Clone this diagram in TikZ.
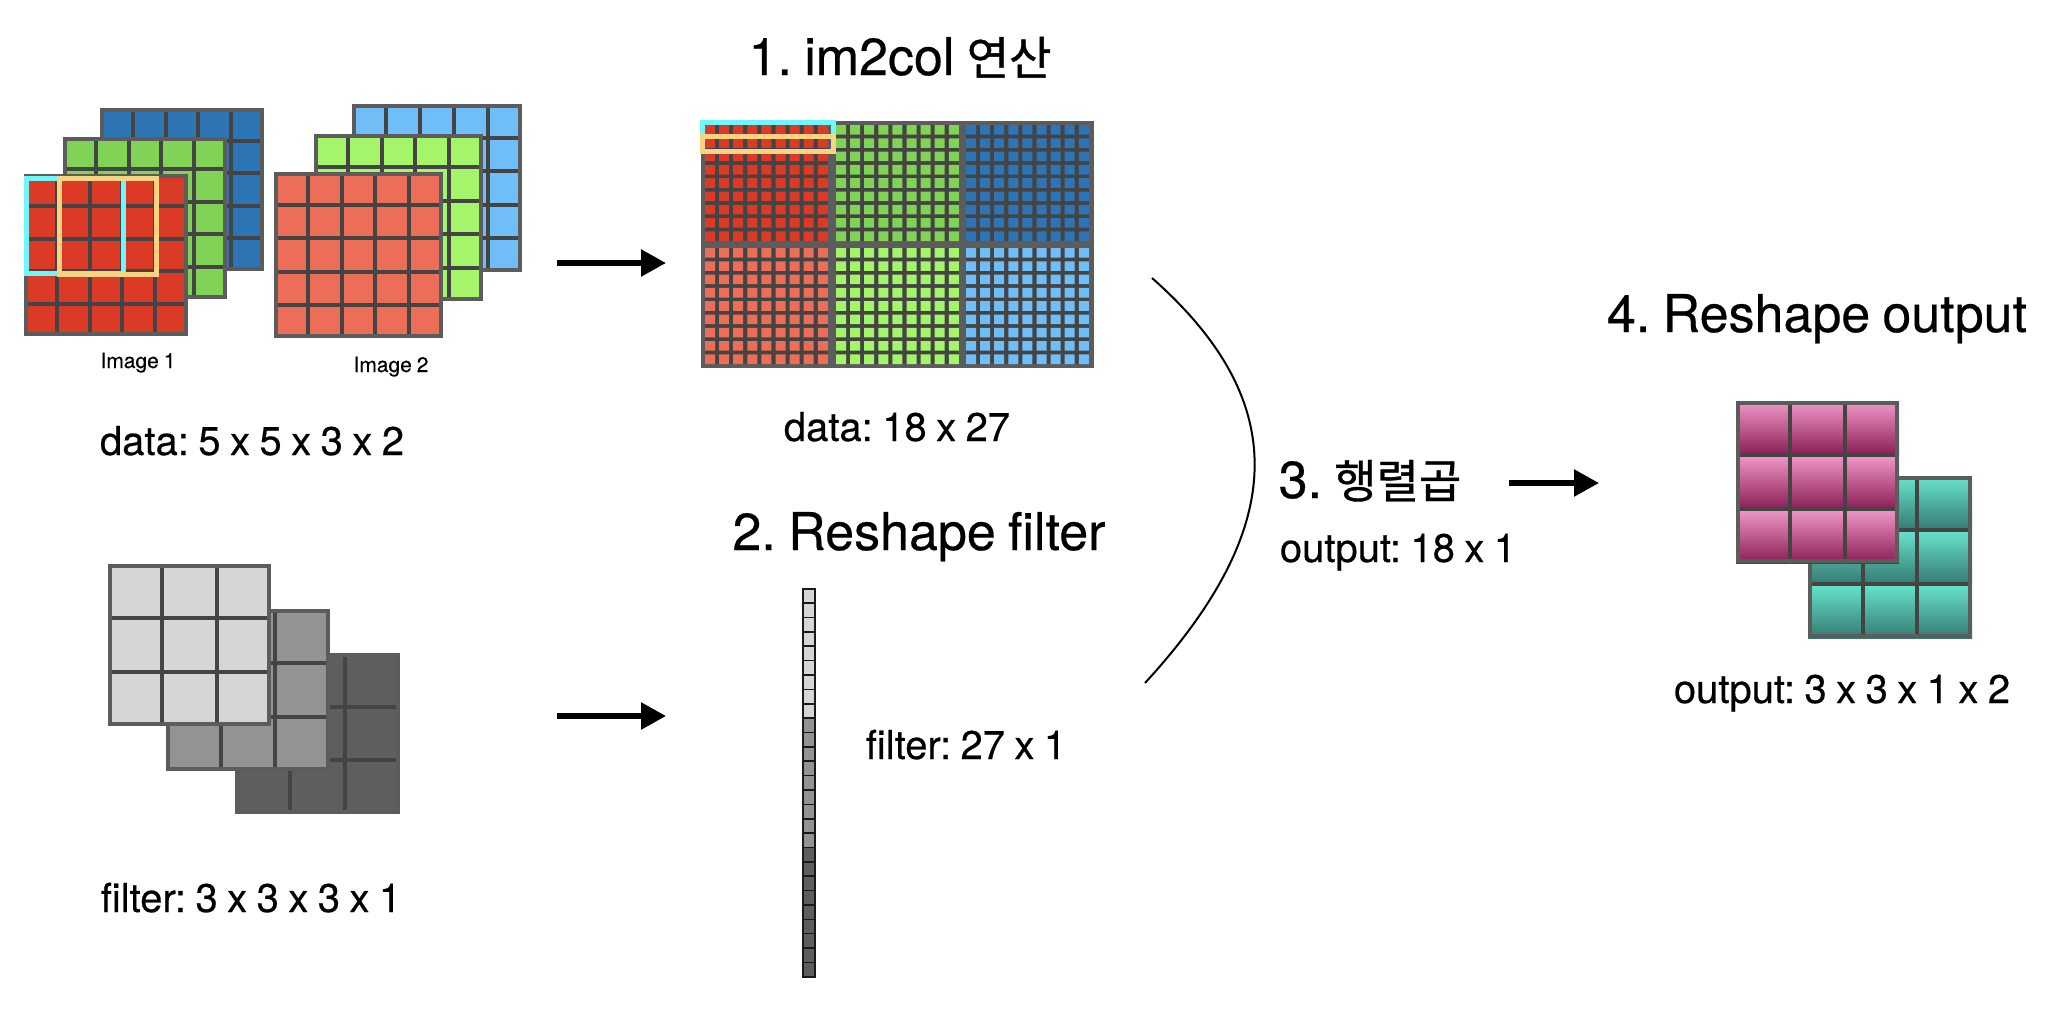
\documentclass[tikz,border=0pt]{standalone}
\usepackage{fontspec}
\setmainfont{TeX Gyre Heros}[WordSpace=0.85, FakeBold=0.4]
\newfontfamily\kr{Noto Sans CJK KR}[FakeBold=0.9]
\usetikzlibrary{arrows.meta}
\frenchspacing
\definecolor{cRed}{HTML}{DB3A26}
\definecolor{cGreen}{HTML}{80D354}
\definecolor{cBlue}{HTML}{2E75B6}
\definecolor{cSalmon}{HTML}{EC6E58}
\definecolor{cLGreen}{HTML}{A5F56A}
\definecolor{cLBlue}{HTML}{6FBEF8}
\definecolor{gLight}{HTML}{D6D6D6}
\definecolor{gMid}{HTML}{939393}
\definecolor{gDark}{HTML}{5E5E5E}
\definecolor{pinkT}{HTML}{F198C8}
\definecolor{pinkB}{HTML}{8A1E55}
\definecolor{tealT}{HTML}{68E4CC}
\definecolor{tealB}{HTML}{357A72}
\definecolor{gLine}{HTML}{444444}
\definecolor{gBorder}{HTML}{5C5C5C}
\definecolor{hCyan}{HTML}{70F7FB}
\definecolor{hYellow}{HTML}{F8D381}
\tikzset{
  gridin/.style={draw=gLine, line width=4pt},
  gridout/.style={draw=gBorder, line width=4pt},
  lbl/.style={inner sep=0pt, anchor=base, font=\fontsize{40}{46}\selectfont\frenchspacing},
  ttl/.style={inner sep=0pt, anchor=base, font=\fontsize{52}{58}\selectfont\frenchspacing},
  smalllbl/.style={inner sep=0pt, anchor=base, font=\fontsize{21}{24}\selectfont\frenchspacing},
  arr/.style={line width=5.5pt, -{Triangle[length=25pt,width=26pt]}},
  hl/.style={line width=5pt},
}
\newcommand{\krs}[1]{{\fontsize{46}{52}\selectfont\kr #1}}
% x0 y0 x1 y1 (n-1) colour
\newcommand{\cellgrid}[6]{%
  \fill[#6] (#1,#2) rectangle (#3,#4);
  \foreach \k in {1,...,#5}{%
    \pgfmathsetmacro{\gxx}{#1+(#3-#1)*\k/(#5+1)}%
    \pgfmathsetmacro{\gyy}{#2+(#4-#2)*\k/(#5+1)}%
    \draw[gridin] (\gxx,#2) -- (\gxx,#4);
    \draw[gridin] (#1,\gyy) -- (#3,\gyy);
  }%
  \pgfmathsetmacro{\gax}{#1+2}\pgfmathsetmacro{\gay}{#2+2}%
  \pgfmathsetmacro{\gbx}{#3-2}\pgfmathsetmacro{\gby}{#4-2}%
  \draw[gridout] (\gax,\gay) rectangle (\gbx,\gby);
}
% x0 y0 x1 y1 top bottom (3x3)
\newcommand{\gradgrid}[6]{%
  \foreach \i in {0,1,2}{\foreach \j in {0,1,2}{%
    \pgfmathsetmacro{\gca}{#1+(#3-#1)*\i/3}%
    \pgfmathsetmacro{\gcb}{#2+(#4-#2)*\j/3}%
    \pgfmathsetmacro{\gcc}{#1+(#3-#1)*(\i+1)/3}%
    \pgfmathsetmacro{\gcd}{#2+(#4-#2)*(\j+1)/3}%
    \shade[top color=#5, bottom color=#6] (\gca,\gcb) rectangle (\gcc,\gcd);
  }}%
  \foreach \k in {1,2}{%
    \pgfmathsetmacro{\gxx}{#1+(#3-#1)*\k/3}%
    \pgfmathsetmacro{\gyy}{#2+(#4-#2)*\k/3}%
    \draw[gridin] (\gxx,#2) -- (\gxx,#4);
    \draw[gridin] (#1,\gyy) -- (#3,\gyy);
  }%
  \pgfmathsetmacro{\gax}{#1+2}\pgfmathsetmacro{\gay}{#2+2}%
  \pgfmathsetmacro{\gbx}{#3-2}\pgfmathsetmacro{\gby}{#4-2}%
  \draw[gridout] (\gax,\gay) rectangle (\gbx,\gby);
}
% block x0 y0 colour (9x9 small squares)
\newcommand{\colblock}[3]{%
  \fill[gLine] (#1,#2) rectangle ({#1+123},{#2+116});
  \fill[#3] \foreach \i in {0,...,8}{\foreach \j in {0,...,8}{
    ({#1+\i*14.1},{#2+\j*13.3}) rectangle ++(10,9.6)}};
}
\begin{document}
\begin{tikzpicture}[x=1pt,y=-1pt]
\useasboundingbox[fill=white] (0,0) rectangle (2048,1012);

% ---------- Image 1 ----------
\cellgrid{100}{108}{264}{271}{4}{cBlue}
\cellgrid{63}{137}{227}{299}{4}{cGreen}
\cellgrid{24}{174}{188}{336}{4}{cRed}
\draw[hl, hCyan] (26.5,178.5) rectangle (123.5,273.5);
\draw[hl, hYellow] (59.5,178.5) rectangle (156.5,274.5);
\node[smalllbl] (img1) at (138,368) {Image 1};

% ---------- Image 2 ----------
\cellgrid{352}{104}{522}{272}{4}{cLBlue}
\cellgrid{314}{134}{483}{301}{4}{cLGreen}
\cellgrid{274}{172}{443}{338}{4}{cSalmon}
\node[smalllbl] (img2) at (391,372) {Image 2};

\node[lbl] (data1) at (252,455) {data: 5 x 5 x 3 x 2};

% ---------- Filter ----------
\cellgrid{235}{653}{400}{814}{2}{gDark}
\cellgrid{166}{609}{330}{771}{2}{gMid}
\cellgrid{108}{564}{271}{726}{2}{gLight}
\node[lbl] (filt1) at (251,912) {filter: 3 x 3 x 3 x 1};

% ---------- arrows ----------
\coordinate (a1s) at (557,263); \coordinate (a1e) at (666,263);
\coordinate (a2s) at (557,716); \coordinate (a2e) at (666,716);
\draw[arr] (a1s) -- (a1e);
\draw[arr] (a2s) -- (a2e);

% ---------- im2col matrix ----------
\node[ttl] (t1) at (900,75) {1. im2col \krs{연산}};
\fill[gBorder] (701,121) rectangle (1094,368);
\colblock{705}{125}{cRed}
\colblock{836}{125}{cGreen}
\colblock{966}{125}{cBlue}
\colblock{705}{248}{cSalmon}
\colblock{836}{248}{cLGreen}
\colblock{966}{248}{cLBlue}
\draw[hl, hCyan] (702.5,122.5) rectangle (833.5,136.5);
\draw[hl, hYellow] (702.5,136.5) rectangle (833.5,151.5);
\node[lbl] (data2) at (897,441) {data: 18 x 27};

% ---------- reshaped filter ----------
\node[ttl] (t2) at (919,550) {2. Reshape filter};
\foreach \n in {0,...,26}{%
  \pgfmathsetmacro{\fy}{588.8+\n*14.37}%
  \pgfmathtruncatemacro{\grp}{\n/9}%
  \ifcase\grp\def\fc{gLight}\or\def\fc{gMid}\else\def\fc{gDark}\fi
  \draw[line width=1.6pt, draw=black!90, fill=\fc] (802.8,\fy) rectangle (815.2,{\fy+14.37});
}
\node[lbl] (filt2) at (966,759) {filter: 27 x 1};

% ---------- matrix product ----------
\coordinate (cv1) at (1152,278);
\coordinate (cv2) at (1145,683);
\draw[line width=2pt] (cv1) .. controls (1290,400) and (1290,525) .. (cv2);
\node[ttl] (t3) at (1370,498) {3. \krs{행렬곱}};
\node[lbl] (out1) at (1398,562) {output: 18 x 1};
\coordinate (a3s) at (1509,483); \coordinate (a3e) at (1599,483);
\draw[arr] (a3s) -- (a3e);

% ---------- output ----------
\node[ttl] (t4) at (1817,332) {4. Reshape output};
\gradgrid{1808}{476}{1972}{638}{tealT}{tealB}
\gradgrid{1736}{401}{1899}{563}{pinkT}{pinkB}
\node[lbl] (out2) at (1842,703) {output: 3 x 3 x 1 x 2};
\end{tikzpicture}
\end{document}
